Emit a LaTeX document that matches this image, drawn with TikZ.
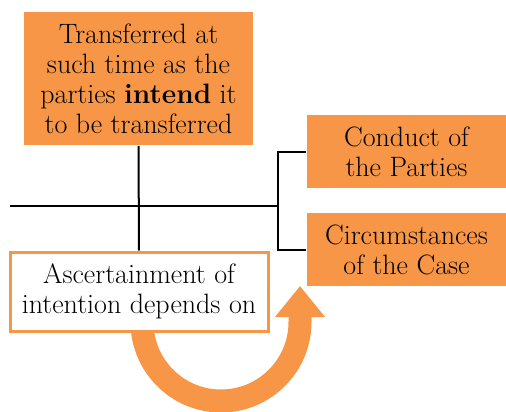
\documentclass[tikz,border=0pt]{standalone}
\usetikzlibrary{arrows.meta}
\definecolor{boxorange}{RGB}{247,150,70}

\begin{document}
\begin{tikzpicture}
[ x=1pt, y=-1pt, line width=2pt
, filled/.style={rectangle, fill=boxorange, inner sep=0pt, align=center, font=\fontsize{28}{30}\selectfont}
, outlined/.style={rectangle, draw=boxorange, line width=3pt, fill=white, inner sep=0pt, align=center, font=\fontsize{28}{30}\selectfont}
, link/.style={draw, black, line width=2pt}
, turn/.style={draw=boxorange, line width=23pt, -{Triangle[width=48pt, length=31pt]}}
]
\useasboundingbox (0,0) rectangle (506,412);
% Boxes:
\node (rule) [filled, minimum width=229pt, minimum height=133pt] at (138.5,78.5)
  {Transferred at\\such time as the\\parties \textbf{intend} it\\to be transferred};
\node (conduct) [filled, minimum width=199pt, minimum height=73pt] at (406.5,151.5)
  {Conduct of\\the Parties};
\node (circ) [filled, minimum width=199pt, minimum height=73pt] at (406.5,249.5)
  {Circumstances\\of the Case};
% Turning arrow, behind the lower box:
\coordinate (arcstart) at (142,322);
\coordinate (arctip) at (300,286);
\draw [turn] (arcstart) arc[start angle=180, end angle=0, radius=79] -- (arctip);
\node (ascert) [outlined, minimum width=258pt, minimum height=79pt] at (139,291.5)
  {Ascertainment of\\intention depends on};
% Lines:
\coordinate (p0) at (10,206);
\coordinate (p1) at (278,206);
\draw [link] (p0) -- (p1);
\draw [link] (rule.south) -- (ascert.north);
\draw [link] (conduct.west) -| (p1) |- (circ.west);
\end{tikzpicture}
\end{document}
